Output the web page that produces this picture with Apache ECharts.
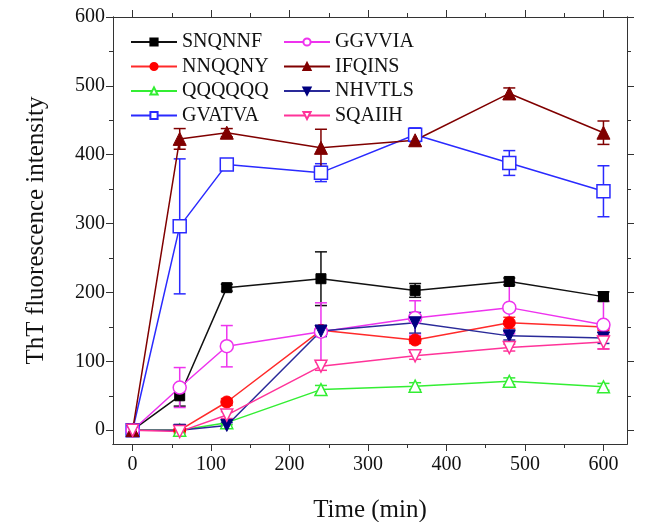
<!DOCTYPE html>
<html lang="en">
<head>
<meta charset="UTF-8" />
<title>ThT fluorescence</title>
<style>
  * { margin: 0; padding: 0; box-sizing: border-box; }
  html, body { background: #fff; }
  #chart { width: 646px; height: 522px; }
</style>
</head>
<body>
<div id="chart"></div>
<script src="https://cdn.jsdelivr.net/npm/echarts@6/dist/echarts.min.js"></script>
<script>
// time points (min)
const times = [0, 60, 120, 240, 360, 480, 600];

// mean values and error bars
const SNQNNF = [0, 50, 207, 220, 203, 216, 194];
const SNQNNF_err = [0, 15, 5, 39, 10, 5, 7];
const NNQQNY = [0, 0, 41, 145, 131, 156, 150];
const NNQQNY_err = [0, 0, 5, 5, 5, 8, 5];
const QQQQQQ = [0, 0, 11, 59, 64, 71, 63];
const QQQQQQ_err = [0, 0, 3, 6, 5, 5, 5];
const GVATVA = [0, 296, 386, 374, 429, 388, 347];
const GVATVA_err = [0, 98, 5, 13, 10, 18, 37];
const GGVVIA = [0, 62, 122, 143, 163, 178, 153];
const GGVVIA_err = [0, 29, 30, 42, 25, 38, 35];
const IFQINS = [0, 423, 432, 410, 421, 489, 432];
const IFQINS_err = [0, 15, 6, 27, 8, 8, 17];
const NHVTLS = [0, 0, 7, 144, 156, 137, 134];
const NHVTLS_err = [0, 0, 4, 8, 15, 6, 8];
const SQAIIH = [0, -2, 22, 93, 108, 120, 128];
const SQAIIH_err = [0, 3, 5, 6, 5, 5, 10];

const xMajor = [0, 100, 200, 300, 400, 500, 600];
const xMinor = [50, 150, 250, 350, 450, 550];
const yMajor = [0, 100, 200, 300, 400, 500, 600];
const yMinor = [50, 150, 250, 350, 450, 550];

const downTri = 'path://M0,0 L10,0 L5,9 Z';
const font = 'Liberation Serif';
const axisCol = '#333';

// name, values, errors, line colour, marker colour, symbol, open, size
const defs = [
  ['SNQNNF', SNQNNF, SNQNNF_err, '#111', '#000', 'rect', false, 10],
  ['NNQQNY', NNQQNY, NNQQNY_err, '#ff2a2a', '#ff0000', 'circle', false, 12],
  ['QQQQQQ', QQQQQQ, QQQQQQ_err, '#33ee33', '#33ee33', 'triangle', true, 12],
  ['GVATVA', GVATVA, GVATVA_err, '#2a2aff', '#2a2aff', 'rect', true, 13],
  ['GGVVIA', GGVVIA, GGVVIA_err, '#ee33ee', '#ee33ee', 'circle', true, 13],
  ['IFQINS', IFQINS, IFQINS_err, '#800000', '#800000', 'triangle', false, 13],
  ['NHVTLS', NHVTLS, NHVTLS_err, '#2a2a99', '#000080', downTri, false, 12],
  ['SQAIIH', SQAIIH, SQAIIH_err, '#ff3399', '#ff3399', downTri, true, 12]
];

function errRender(params, api) {
  const x = api.value(0), y = api.value(1), e = api.value(2);
  if (!e) return null;
  const top = api.coord([x, y + e]);
  const bot = api.coord([x, y - e]);
  const w = 6;
  const style = { stroke: api.visual('color'), lineWidth: 1.5 };
  return {
    type: 'group',
    children: [
      { type: 'line', shape: { x1: top[0], y1: top[1], x2: bot[0], y2: bot[1] }, style: style },
      { type: 'line', shape: { x1: top[0] - w, y1: top[1], x2: top[0] + w, y2: top[1] }, style: style },
      { type: 'line', shape: { x1: bot[0] - w, y1: bot[1], x2: bot[0] + w, y2: bot[1] }, style: style }
    ]
  };
}

const series = [];
defs.forEach(function (d) {
  series.push({
    name: d[0] + '_err',
    type: 'custom',
    renderItem: errRender,
    itemStyle: { color: d[3] },
    data: times.map(function (t, i) { return [t, d[1][i], d[2][i]]; }),
    z: 2,
    silent: true
  });
});
defs.forEach(function (d) {
  series.push({
    name: d[0],
    type: 'line',
    symbol: d[5],
    symbolSize: d[7],
    showAllSymbol: true,
    lineStyle: { color: d[3], width: 1.5 },
    itemStyle: d[6]
      ? { color: '#fff', borderColor: d[4], borderWidth: 1.5 }
      : { color: d[4], borderColor: d[4], borderWidth: 1 },
    data: times.map(function (t, i) { return [t, d[1][i]]; }),
    z: 3,
    animation: false
  });
});

function xAx(pos, ticks, len, labels, extra) {
  return Object.assign({
    type: 'value', position: pos, min: -25, max: 630,
    axisLine: { onZero: false, lineStyle: { color: axisCol, width: 1 } },
    axisTick: { show: true, inside: false, length: len, customValues: ticks, lineStyle: { color: axisCol } },
    axisLabel: labels
      ? { customValues: ticks, fontFamily: font, fontSize: 20, color: '#111', margin: 11 }
      : { show: false },
    splitLine: { show: false }
  }, extra || {});
}
function yAx(pos, ticks, len, labels, extra) {
  return Object.assign({
    type: 'value', position: pos, min: -20, max: 600,
    axisLine: { show: true, onZero: false, lineStyle: { color: axisCol, width: 1 } },
    axisTick: { show: true, inside: false, length: len, customValues: ticks, lineStyle: { color: axisCol } },
    axisLabel: labels
      ? { customValues: ticks, fontFamily: font, fontSize: 20, color: '#111', margin: 8 }
      : { show: false },
    splitLine: { show: false }
  }, extra || {});
}

const legendBase = {
  orient: 'vertical',
  top: 27,
  itemWidth: 46,
  itemHeight: 9,
  itemGap: 4.5,
  textStyle: { fontFamily: font, fontSize: 20, color: '#111' },
  selectedMode: false
};

const chart = echarts.init(document.getElementById('chart'));
chart.setOption({
  backgroundColor: '#fff',
  animation: false,
  grid: { left: 113, right: 19, top: 17, bottom: 78, containLabel: false, outerBoundsMode: 'none' },
  legend: [
    Object.assign({}, legendBase, { left: 125, data: ['SNQNNF', 'NNQQNY', 'QQQQQQ', 'GVATVA'] }),
    Object.assign({}, legendBase, { left: 278, data: ['GGVVIA', 'IFQINS', 'NHVTLS', 'SQAIIH'] })
  ],
  xAxis: [
    xAx('bottom', xMajor, 7, true, {
      name: 'Time (min)', nameLocation: 'middle', nameGap: 54,
      nameTextStyle: { fontFamily: font, fontSize: 25, color: '#111' }
    }),
    xAx('bottom', xMinor, 4, false),
    xAx('top', xMajor, 7, false),
    xAx('top', xMinor, 4, false)
  ],
  yAxis: [
    yAx('left', yMajor, 7, true, {
      name: 'ThT fluorescence intensity', nameLocation: 'middle', nameGap: 64,
      nameTextStyle: { fontFamily: font, fontSize: 25, color: '#111' }
    }),
    yAx('left', yMinor, 4, false),
    yAx('right', yMajor, 7, false),
    yAx('right', yMinor, 4, false)
  ],
  series: series
});
</script>
</body>
</html>
